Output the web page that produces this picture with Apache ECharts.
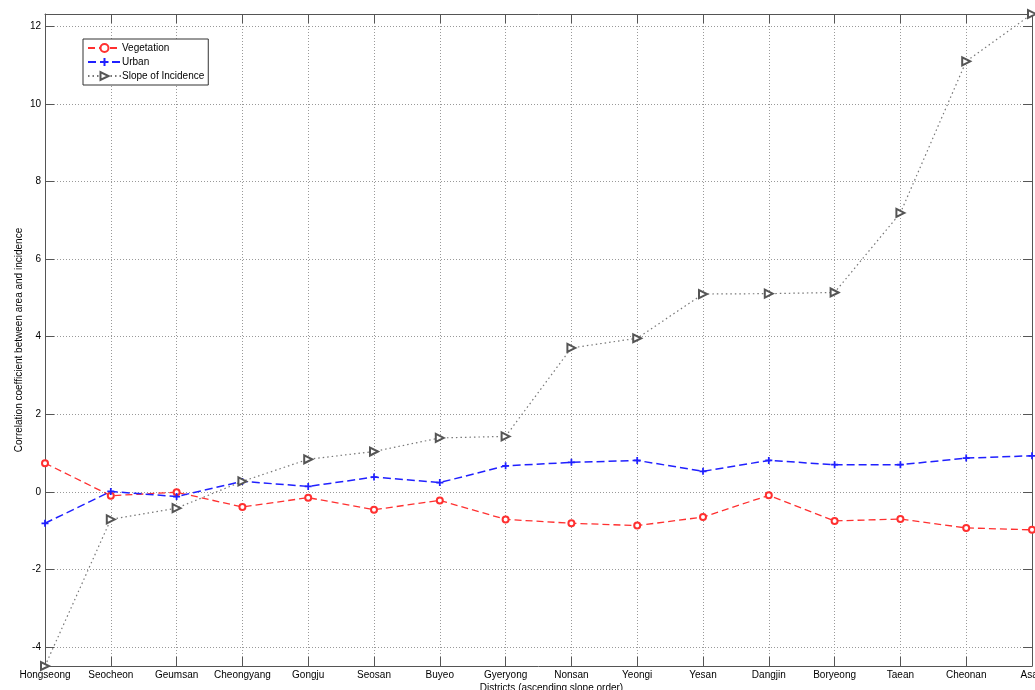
<!DOCTYPE html>
<html>
<head>
<meta charset="utf-8">
<script src="https://cdn.jsdelivr.net/npm/echarts@6/dist/echarts.min.js"></script>
<style>
  html, body { margin: 0; padding: 0; background: #fff; overflow: hidden; }
  #chart { width: 1035px; height: 690px; }
</style>
</head>
<body>
<div id="chart"></div>
<script>
// Districts, ordered by ascending slope
const districts = ['Hongseong', 'Seocheon', 'Geumsan', 'Cheongyang', 'Gongju', 'Seosan', 'Buyeo', 'Gyeryong',
  'Nonsan', 'Yeongi', 'Yesan', 'Dangjin', 'Boryeong', 'Taean', 'Cheonan', 'Asan'];

// Correlation coefficient between area and incidence
const vegetation = [0.74, -0.10, -0.01, -0.39, -0.15, -0.46, -0.22, -0.71, -0.81, -0.87, -0.65, -0.09, -0.75, -0.70, -0.93, -0.98];
const urban = [-0.81, 0.01, -0.12, 0.27, 0.14, 0.38, 0.24, 0.67, 0.76, 0.81, 0.53, 0.81, 0.70, 0.70, 0.87, 0.93];
const slopeOfIncidence = [-4.49, -0.71, -0.42, 0.27, 0.84, 1.04, 1.39, 1.43, 3.71, 3.96, 5.10, 5.11, 5.14, 7.19, 11.10, 12.32];

// Y tick values
const yTicks = [-4, -2, 0, 2, 4, 6, 8, 10, 12];

const seriesNames = ['Vegetation', 'Urban', 'Slope of Incidence'];

// Tight y range around the data
const allValues = vegetation.concat(urban, slopeOfIncidence);
const yMin = Math.min.apply(null, allValues);
const yMax = Math.max.apply(null, allValues);

const FONT = 'Liberation Sans, Arial, sans-serif';
const FRAME = '#555';
const DOTTED = { color: '#999', type: [1, 2], width: 1 };
const TICK_IN = { show: true, inside: true, length: 9, lineStyle: { color: FRAME } };

const chart = echarts.init(document.getElementById('chart'), null, { renderer: 'canvas' });

chart.setOption({
  backgroundColor: '#fff',
  animation: false,
  grid: { left: 45, right: 3, top: 14, bottom: 24, containLabel: false, outerBoundsMode: 'none' },
  legend: {
    orient: 'vertical',
    left: 83,
    top: 39,
    padding: [4, 4, 4, 4],
    itemGap: 4,
    itemWidth: 33,
    itemHeight: 10,
    backgroundColor: '#fff',
    borderColor: '#333',
    borderWidth: 1,
    borderRadius: 0,
    textStyle: { fontFamily: FONT, fontSize: 10, color: '#000', padding: [0, 0, 0, -4] },
    data: seriesNames
  },
  xAxis: [
    {
      type: 'category',
      data: districts,
      boundaryGap: false,
      position: 'bottom',
      name: 'Districts (ascending slope order)',
      nameLocation: 'middle',
      nameGap: 17,
      nameMoveOverlap: false,
      nameTextStyle: { fontFamily: FONT, fontSize: 10, color: '#000', padding: [0, 0, 0, 26] },
      axisLine: { show: true, onZero: false, lineStyle: { color: FRAME } },
      axisTick: Object.assign({ alignWithLabel: true, interval: 0 }, TICK_IN),
      axisLabel: { interval: 0, margin: 4, fontFamily: FONT, fontSize: 10, color: '#000' },
      splitLine: { show: true, interval: 0, lineStyle: DOTTED }
    },
    {
      type: 'category',
      data: districts,
      boundaryGap: false,
      position: 'top',
      axisLine: { show: true, onZero: false, lineStyle: { color: FRAME } },
      axisTick: Object.assign({ alignWithLabel: true, interval: 0 }, TICK_IN),
      axisLabel: { show: false },
      splitLine: { show: false }
    }
  ],
  yAxis: [
    {
      type: 'value',
      min: yMin,
      max: yMax,
      position: 'left',
      name: 'Correlation coefficient between area and incidence',
      nameLocation: 'middle',
      nameGap: 21,
      nameMoveOverlap: false,
      nameTextStyle: { fontFamily: FONT, fontSize: 10, color: '#000' },
      axisLine: { show: true, onZero: false, lineStyle: { color: FRAME } },
      axisTick: Object.assign({ customValues: yTicks }, TICK_IN),
      axisLabel: { customValues: yTicks, margin: 4, fontFamily: FONT, fontSize: 10, color: '#000' },
      splitLine: { show: true, lineStyle: DOTTED }
    },
    {
      type: 'value',
      min: yMin,
      max: yMax,
      position: 'right',
      axisLine: { show: true, onZero: false, lineStyle: { color: FRAME } },
      axisTick: Object.assign({ customValues: yTicks }, TICK_IN),
      axisLabel: { show: false },
      splitLine: { show: false }
    }
  ],
  series: [
    {
      name: seriesNames[0],
      type: 'line',
      data: vegetation,
      symbol: 'emptyCircle',
      symbolSize: 6,
      color: '#ff3030',
      itemStyle: { color: '#ff3030', borderWidth: 1 },
      lineStyle: { color: '#ff3030', width: 1.3, type: [7, 4] }
    },
    {
      name: seriesNames[1],
      type: 'line',
      data: urban,
      symbol: 'path://M3,0h2v3h3v2h-3v3h-2v-3h-3v-2h3z',
      symbolSize: 7,
      color: '#2020ff',
      itemStyle: { color: '#2020ff' },
      lineStyle: { color: '#2020ff', width: 1.5, type: [8, 4] }
    },
    {
      name: seriesNames[2],
      type: 'line',
      data: slopeOfIncidence,
      symbol: 'emptyTriangle',
      symbolRotate: -90,
      symbolSize: 8,
      color: '#555',
      itemStyle: { color: '#555', borderWidth: 1 },
      lineStyle: { color: '#777', width: 1.2, type: [1.5, 3] }
    }
  ]
});
</script>
</body>
</html>
